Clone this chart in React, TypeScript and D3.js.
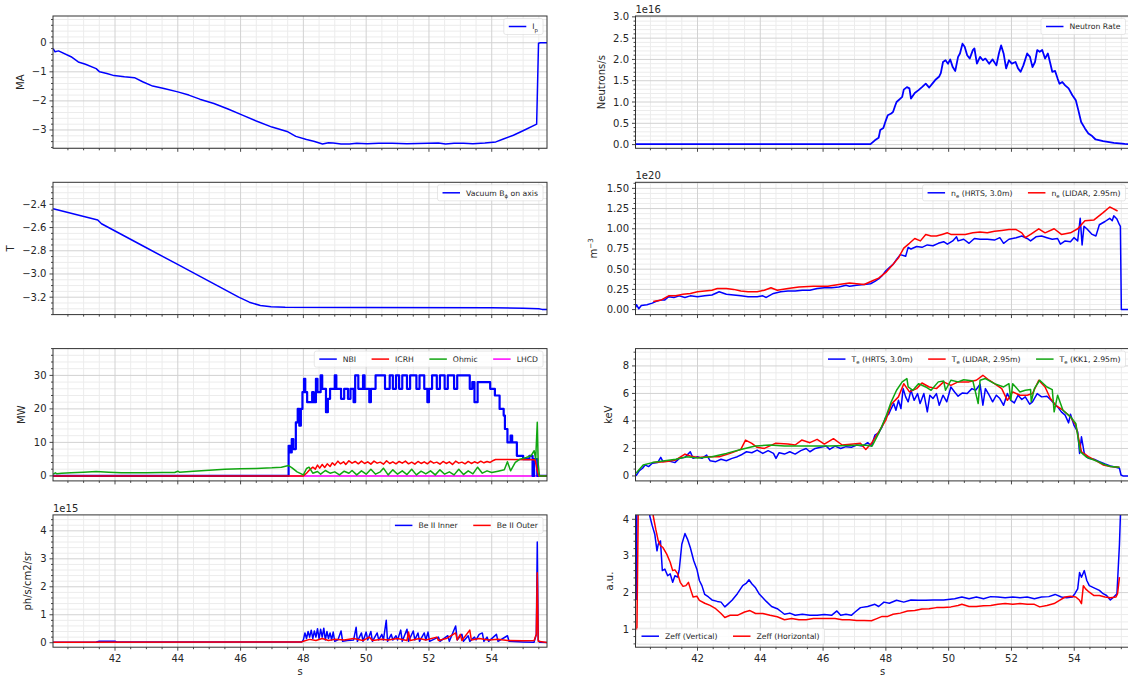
import React, { useEffect, useRef } from "react";
import * as d3 from "d3";

type Pt = [number, number];

// shared time axis (s)
const timeDomain: [number, number] = [40.025, 55.76];
const timeTicks = [42, 44, 46, 48, 50, 52, 54];

// ---- plasma current (MA) ----
const ipData: Pt[] = [
  [40.03, -0.2], [40.09, -0.31], [40.2, -0.28], [40.6, -0.48], [40.83, -0.66], [41.06, -0.74],
  [41.4, -0.89], [41.51, -1.0], [41.74, -1.06], [41.97, -1.13], [42.3, -1.17], [42.62, -1.2],
  [42.88, -1.34], [43.2, -1.49], [43.56, -1.57], [44.0, -1.69], [44.35, -1.8], [44.7, -1.94],
  [45.15, -2.09], [45.6, -2.28], [46.06, -2.49], [46.5, -2.69], [47.0, -2.9], [47.48, -3.05],
  [47.76, -3.22], [48.1, -3.33], [48.33, -3.39], [48.61, -3.48], [48.8, -3.44], [48.95, -3.45],
  [49.2, -3.48], [49.47, -3.48], [49.7, -3.46], [50.03, -3.47], [50.4, -3.46], [50.83, -3.46],
  [51.3, -3.47], [51.97, -3.46], [52.3, -3.45], [52.53, -3.48], [52.8, -3.46], [53.1, -3.46],
  [53.4, -3.47], [53.78, -3.45], [54.13, -3.41], [54.35, -3.32], [54.69, -3.18], [55.03, -3.01],
  [55.43, -2.8], [55.49, -0.02], [55.55, 0], [55.76, 0],
];

// ---- vacuum toroidal field (T) ----
const btData: Pt[] = [
  [40.03, -2.437], [41.45, -2.535], [41.57, -2.567], [42.88, -2.757], [44.01, -2.92], [45.94, -3.2],
  [46.28, -3.243], [46.63, -3.272], [46.97, -3.283], [47.42, -3.287], [50.0, -3.288], [54.0, -3.29],
  [55.0, -3.295], [55.5, -3.3], [55.6, -3.305], [55.76, -3.306],
];

// ---- heating power (MW) ----
const nbiData: Pt[] = [
  [40.03, 0], [47.53, 9], [47.58, 7], [47.63, 11], [47.68, 8], [47.76, 16], [47.82, 20], [47.87, 15],
  [47.92, 20], [47.97, 25], [48.02, 29], [48.06, 25], [48.12, 22], [48.28, 25], [48.33, 22], [48.4, 29],
  [48.45, 25], [48.55, 30], [48.6, 26], [48.72, 19], [48.78, 23], [48.85, 26], [49.0, 30], [49.05, 26],
  [49.2, 23], [49.3, 26], [49.42, 23], [49.5, 26], [49.6, 22], [49.65, 30], [49.75, 26], [49.9, 30],
  [49.95, 26], [50.1, 22], [50.15, 26], [50.3, 30], [50.6, 26], [50.75, 30], [50.85, 26], [50.95, 30],
  [51.05, 26], [51.15, 30], [51.3, 26], [51.4, 30], [51.6, 26], [51.7, 30], [51.85, 26], [51.95, 22],
  [52.0, 26], [52.1, 30], [52.25, 26], [52.35, 30], [52.5, 26], [52.6, 30], [52.8, 26], [52.9, 30],
  [53.3, 26], [53.38, 28], [53.45, 22], [53.55, 28], [53.95, 26], [54.1, 24], [54.25, 20], [54.38, 18],
  [54.42, 14], [54.5, 10], [54.6, 12], [54.65, 10], [54.8, 6], [55.0, 5], [55.2, 6], [55.3, 0],
  [55.35, 5], [55.45, 0], [55.76, 0],
];
const icrhData: Pt[] = [
  [40.03, 0], [48.0, 0], [48.1, 0.8], [48.2, 1.8], [48.3, 2.6], [48.38, 2.0], [48.45, 3.2], [48.52, 2.3],
  [48.6, 3.4], [48.68, 2.5], [48.76, 3.6], [48.85, 2.8], [48.92, 3.9], [49.0, 3.2], [49.1, 4.4], [49.18, 3.6],
  [49.28, 4.2], [49.35, 3.4], [49.45, 4.5], [49.55, 3.8], [49.65, 4.3], [49.75, 3.6], [49.85, 4.4], [49.95, 3.7],
  [50.05, 4.2], [50.15, 3.5], [50.25, 4.4], [50.35, 3.8], [50.45, 4.1], [50.55, 3.5], [50.65, 4.5], [50.75, 3.7],
  [50.85, 4.2], [50.95, 3.6], [51.05, 4.3], [51.15, 3.8], [51.25, 4.4], [51.35, 3.6], [51.45, 4.1], [51.55, 3.5],
  [51.65, 4.3], [51.75, 3.7], [51.85, 4.2], [51.95, 3.6], [52.05, 4.4], [52.15, 3.8], [52.25, 4.1], [52.35, 3.5],
  [52.45, 4.3], [52.55, 3.7], [52.65, 4.2], [52.75, 3.4], [52.85, 4.4], [52.95, 3.8], [53.05, 4.1], [53.15, 3.6],
  [53.25, 4.3], [53.35, 3.7], [53.45, 4.2], [53.55, 3.8], [53.65, 4.4], [53.75, 3.9], [53.85, 4.3], [53.95, 4.0],
  [54.05, 4.6], [54.12, 4.9], [55.38, 4.8], [55.45, 1.5], [55.5, 0], [55.76, 0],
];
const ohmicData: Pt[] = [
  [40.03, 0.5], [40.1, 0.9], [40.15, 0.6], [40.3, 0.8], [40.6, 0.9], [41.0, 1.1], [41.4, 1.3], [41.8, 1.1],
  [42.2, 0.9], [42.6, 0.9], [43.0, 0.9], [43.5, 1.0], [43.9, 1.0], [44.0, 1.4], [44.05, 1.1], [44.5, 1.4],
  [45.0, 1.7], [45.5, 2.0], [46.0, 2.1], [46.5, 2.2], [47.0, 2.4], [47.3, 2.6], [47.53, 3.1], [47.65, 2.3],
  [47.8, 1.2], [48.0, 0.3], [48.1, 2.2], [48.18, 2.6], [48.3, 0.8], [48.45, 1.3], [48.55, 0.5], [48.7, 1.6],
  [48.85, 0.8], [49.0, 1.2], [49.15, 0.3], [49.3, 1.4], [49.45, 0.8], [49.55, 1.6], [49.7, 0.3], [49.85, 1.5],
  [50.0, 0.5], [50.15, 2.0], [50.3, 0.5], [50.45, 1.2], [50.55, 2.3], [50.7, 0.3], [50.85, 1.8], [51.0, 0.5],
  [51.15, 1.5], [51.3, 0.4], [51.45, 2.0], [51.6, 0.3], [51.75, 1.4], [51.9, 0.6], [52.05, 1.5], [52.2, 0.3],
  [52.35, 1.8], [52.5, 0.5], [52.65, 1.2], [52.8, 0.3], [52.95, 2.0], [53.1, 0.4], [53.25, 1.5], [53.4, 0.6],
  [53.55, 2.6], [53.7, 0.8], [53.85, 1.5], [54.0, 1.0], [54.2, 1.4], [54.4, 1.8], [54.5, 4.2], [54.6, 1.5],
  [54.75, 4.0], [54.9, 5.0], [55.1, 5.5], [55.25, 6.0], [55.35, 7.5], [55.4, 5.0], [55.45, 16], [55.48, 3.5],
  [55.52, 0], [55.76, 0],
];
const lhcdData: Pt[] = [[40.03, 0], [55.76, 0]];

// ---- Be II emission (1e15 ph/s/cm2/sr) ----
const beInnerData: Pt[] = [
  [40.03, 0.02], [41.4, 0.03], [41.5, 0.05], [42.0, 0.05], [42.05, 0.03], [47.95, 0.03], [48.0, 0.1],
  [48.05, 0.35], [48.1, 0.15], [48.15, 0.4], [48.2, 0.2], [48.25, 0.45], [48.3, 0.15], [48.35, 0.42],
  [48.4, 0.2], [48.45, 0.5], [48.5, 0.15], [48.55, 0.48], [48.6, 0.2], [48.65, 0.52], [48.7, 0.1],
  [48.75, 0.4], [48.8, 0.15], [48.85, 0.35], [48.9, 0.1], [48.95, 0.38], [49.0, 0.05], [49.1, 0.1],
  [49.2, 0.42], [49.25, 0.05], [49.4, 0.08], [49.6, 0.1], [49.68, 0.55], [49.72, 0.05], [49.85, 0.35],
  [49.9, 0.05], [50.0, 0.38], [50.05, 0.1], [50.15, 0.4], [50.2, 0.05], [50.35, 0.35], [50.4, 0.1],
  [50.5, 0.3], [50.55, 0.1], [50.64, 0.8], [50.68, 0.05], [50.8, 0.3], [50.85, 0.1], [50.95, 0.25],
  [51.0, 0.1], [51.1, 0.45], [51.15, 0.05], [51.3, 0.48], [51.35, 0.05], [51.5, 0.42], [51.55, 0.1],
  [51.65, 0.35], [51.7, 0.05], [51.85, 0.35], [51.9, 0.1], [51.97, 0.38], [52.02, 0.05], [52.3, 0.2],
  [52.35, 0.05], [52.6, 0.25], [52.65, 0.05], [52.85, 0.6], [52.9, 0.1], [53.05, 0.3], [53.1, 0.05],
  [53.25, 0.25], [53.3, 0.05], [53.45, 0.2], [53.5, 0.1], [53.6, 0.3], [53.7, 0.35], [53.75, 0.05],
  [53.85, 0.2], [53.9, 0.05], [54.15, 0.3], [54.2, 0.05], [54.5, 0.25], [54.55, 0.05], [55.0, 0.03],
  [55.35, 0.02], [55.42, 0.3], [55.45, 3.6], [55.48, 0.1], [55.52, 0.02], [55.76, 0.01],
];
const beOuterData: Pt[] = [
  [40.03, 0.02], [47.95, 0.03], [48.0, 0.05], [48.2, 0.12], [48.4, 0.08], [48.6, 0.15], [48.8, 0.08],
  [49.0, 0.12], [49.3, 0.1], [49.6, 0.15], [49.9, 0.08], [50.1, 0.2], [50.2, 0.08], [50.5, 0.12],
  [50.7, 0.1], [51.0, 0.15], [51.3, 0.08], [51.35, 0.38], [51.4, 0.08], [51.7, 0.15], [51.9, 0.1],
  [52.25, 0.2], [52.3, 0.08], [52.55, 0.15], [52.85, 0.35], [52.9, 0.1], [53.0, 0.3], [53.05, 0.08],
  [53.3, 0.45], [53.35, 0.1], [53.6, 0.15], [53.9, 0.1], [54.2, 0.12], [54.5, 0.08], [55.0, 0.07],
  [55.35, 0.08], [55.42, 0.3], [55.45, 2.5], [55.48, 0.05], [55.76, 0.01],
];

// ---- neutron rate (1e16 /s) ----
const neutronData: Pt[] = [
  [40.03, 0.01], [47.51, 0.01], [47.65, 0.1], [47.77, 0.16], [47.82, 0.34], [47.92, 0.39], [48.0, 0.57],
  [48.06, 0.69], [48.17, 0.73], [48.23, 0.77], [48.29, 0.9], [48.34, 1.0], [48.46, 1.08], [48.52, 1.12],
  [48.57, 1.29], [48.67, 1.35], [48.75, 1.32], [48.8, 1.08], [48.92, 1.21], [49.04, 1.28], [49.15, 1.35],
  [49.27, 1.43], [49.38, 1.34], [49.5, 1.45], [49.59, 1.53], [49.7, 1.6], [49.75, 1.68], [49.82, 1.94],
  [49.9, 1.98], [49.98, 1.9], [50.05, 2.0], [50.13, 1.82], [50.21, 1.73], [50.3, 2.06], [50.36, 2.14],
  [50.44, 2.37], [50.51, 2.3], [50.59, 2.1], [50.67, 2.02], [50.77, 2.22], [50.82, 2.26], [50.9, 1.9],
  [51.0, 2.06], [51.09, 1.98], [51.17, 2.02], [51.29, 1.9], [51.4, 2.0], [51.52, 1.86], [51.6, 2.14],
  [51.67, 2.33], [51.75, 2.14], [51.83, 1.79], [51.92, 1.98], [52.01, 1.9], [52.13, 1.94], [52.21, 1.79],
  [52.29, 1.71], [52.38, 1.86], [52.5, 2.14], [52.59, 2.06], [52.67, 1.82], [52.75, 1.94], [52.82, 2.22],
  [52.9, 2.18], [52.98, 2.22], [53.07, 2.02], [53.16, 2.14], [53.24, 1.9], [53.3, 1.71], [53.39, 1.73],
  [53.47, 1.55], [53.53, 1.43], [53.62, 1.47], [53.71, 1.39], [53.82, 1.32], [53.94, 1.16], [54.05, 1.04],
  [54.13, 0.81], [54.22, 0.53], [54.34, 0.38], [54.45, 0.26], [54.57, 0.2], [54.68, 0.12], [54.92, 0.08],
  [55.26, 0.04], [55.61, 0.016], [55.76, 0.01],
];

// ---- electron density (1e20 m^-3) ----
const neHrtsData: Pt[] = [
  [40.02, 0.02], [40.06, 0.06], [40.13, 0.01], [40.21, 0.05], [40.39, 0.06], [40.56, 0.08], [40.67, 0.1],
  [40.85, 0.12], [40.96, 0.12], [41.08, 0.16], [41.25, 0.15], [41.42, 0.17], [41.6, 0.15], [41.77, 0.17],
  [42.0, 0.16], [42.23, 0.17], [42.46, 0.18], [42.69, 0.22], [42.92, 0.19], [43.15, 0.18], [43.38, 0.17],
  [43.61, 0.16], [43.9, 0.16], [44.08, 0.17], [44.19, 0.15], [44.42, 0.2], [44.65, 0.22], [44.88, 0.23],
  [45.11, 0.23], [45.34, 0.24], [45.58, 0.24], [45.81, 0.26], [46.04, 0.27], [46.27, 0.27], [46.5, 0.28],
  [46.73, 0.3], [46.84, 0.29], [47.07, 0.3], [47.31, 0.31], [47.51, 0.32], [47.65, 0.35], [47.77, 0.38],
  [47.88, 0.42], [48.0, 0.48], [48.11, 0.52], [48.23, 0.56], [48.34, 0.62], [48.46, 0.68], [48.63, 0.66],
  [48.71, 0.77], [48.8, 0.75], [48.98, 0.78], [49.15, 0.77], [49.32, 0.8], [49.5, 0.79], [49.67, 0.82],
  [49.84, 0.84], [49.96, 0.81], [50.13, 0.85], [50.25, 0.9], [50.3, 0.85], [50.48, 0.87], [50.65, 0.82],
  [50.82, 0.88], [51.0, 0.87], [51.23, 0.87], [51.46, 0.86], [51.63, 0.89], [51.75, 0.82], [51.92, 0.87],
  [52.15, 0.89], [52.33, 0.91], [52.5, 0.88], [52.61, 0.85], [52.78, 0.9], [52.96, 0.91], [53.13, 0.89],
  [53.3, 0.87], [53.47, 0.88], [53.56, 0.81], [53.71, 0.85], [53.88, 0.84], [53.99, 0.89], [54.11, 0.85],
  [54.19, 1.13], [54.25, 0.8], [54.31, 1.03], [54.4, 1.0], [54.57, 0.93], [54.69, 0.91], [54.8, 1.05],
  [54.98, 1.09], [55.13, 1.13], [55.21, 1.1], [55.26, 1.16], [55.36, 1.12], [55.44, 1.05], [55.47, 1.03],
  [55.5, 0.0], [55.76, 0.0],
];
const neLidarData: Pt[] = [
  [40.59, 0.1], [40.85, 0.12], [41.08, 0.17], [41.31, 0.17], [41.54, 0.19], [41.77, 0.2], [42.0, 0.22],
  [42.23, 0.23], [42.46, 0.24], [42.63, 0.26], [42.92, 0.26], [43.15, 0.25], [43.38, 0.23], [43.61, 0.22],
  [43.9, 0.22], [44.13, 0.24], [44.34, 0.27], [44.54, 0.24], [44.88, 0.26], [45.23, 0.28], [45.69, 0.29],
  [46.15, 0.29], [46.5, 0.31], [46.84, 0.33], [47.07, 0.32], [47.31, 0.31], [47.54, 0.35], [47.77, 0.39],
  [48.0, 0.46], [48.23, 0.56], [48.4, 0.64], [48.57, 0.76], [48.75, 0.82], [48.92, 0.88], [49.1, 0.85],
  [49.27, 0.93], [49.44, 0.91], [49.61, 0.91], [49.79, 0.93], [49.96, 0.95], [50.07, 0.93], [50.3, 0.93],
  [50.53, 0.93], [50.77, 0.95], [51.0, 0.96], [51.23, 0.95], [51.46, 0.97], [51.69, 0.98], [51.92, 0.99],
  [52.15, 0.99], [52.33, 0.95], [52.44, 0.89], [52.61, 0.93], [52.87, 1.0], [53.07, 0.95], [53.36, 1.0],
  [53.59, 0.93], [53.88, 0.95], [54.11, 1.0], [54.34, 1.1], [54.63, 1.11], [54.92, 1.2], [55.13, 1.27],
  [55.38, 1.22],
];

// ---- electron temperature (keV) ----
const teHrtsData: Pt[] = [
  [40.04, 0], [40.15, 0.39], [40.25, 0.56], [40.33, 0.8], [40.44, 0.68], [40.56, 0.92], [40.73, 0.97],
  [40.83, 1.35], [40.9, 1.04], [41.02, 1.11], [41.13, 1.06], [41.28, 0.97], [41.42, 1.28], [41.6, 1.35],
  [41.77, 1.76], [41.86, 1.28], [42.0, 1.4], [42.14, 1.28], [42.29, 1.52], [42.4, 1.11], [42.58, 1.04],
  [42.75, 1.21], [42.92, 1.11], [43.1, 1.28], [43.27, 1.4], [43.38, 1.52], [43.56, 1.76], [43.73, 1.69],
  [43.9, 1.88], [44.08, 1.64], [44.25, 1.84], [44.42, 1.64], [44.5, 1.28], [44.6, 1.69], [44.77, 1.59],
  [44.94, 1.76], [45.11, 1.59], [45.29, 1.84], [45.46, 2.0], [45.58, 1.76], [45.75, 2.0], [45.92, 2.08],
  [46.1, 2.17], [46.21, 1.93], [46.38, 2.17], [46.56, 2.0], [46.73, 2.13], [46.9, 2.08], [47.07, 2.25],
  [47.25, 2.17], [47.42, 2.42], [47.54, 2.17], [47.65, 2.97], [47.77, 3.14], [47.88, 3.57], [48.0, 4.3],
  [48.09, 4.49], [48.17, 4.9], [48.25, 5.27], [48.32, 4.78], [48.4, 5.5], [48.48, 4.9], [48.55, 6.35],
  [48.63, 5.75], [48.71, 5.39], [48.8, 6.23], [48.9, 5.5], [49.01, 5.99], [49.09, 5.27], [49.21, 5.99],
  [49.32, 4.66], [49.4, 5.87], [49.5, 5.63], [49.61, 5.99], [49.7, 5.14], [49.82, 5.87], [49.94, 5.39],
  [50.07, 6.47], [50.19, 6.11], [50.3, 5.8], [50.44, 6.04], [50.59, 5.99], [50.74, 6.35], [50.86, 6.23],
  [51.0, 6.67], [51.09, 5.14], [51.17, 6.35], [51.29, 5.87], [51.4, 5.39], [51.52, 5.87], [51.63, 5.63],
  [51.75, 5.14], [51.87, 5.99], [51.98, 5.5], [52.09, 5.31], [52.21, 5.87], [52.33, 5.56], [52.44, 5.75],
  [52.58, 5.22], [52.67, 5.39], [52.82, 5.99], [52.96, 5.75], [53.13, 5.8], [53.24, 5.56], [53.36, 5.27],
  [53.47, 5.02], [53.59, 4.66], [53.71, 4.42], [53.82, 3.86], [53.88, 4.49], [53.99, 3.7], [54.11, 3.21],
  [54.17, 1.64], [54.23, 2.85], [54.32, 1.64], [54.45, 1.28], [54.63, 1.21], [54.8, 1.04], [54.98, 0.87],
  [55.15, 0.72], [55.33, 0.63], [55.44, 0.56], [55.49, 0.07], [55.55, 0], [55.76, 0],
];
const teLidarData: Pt[] = [
  [40.59, 0.97], [40.96, 1.04], [41.31, 1.16], [41.6, 1.59], [41.77, 1.45], [42.0, 1.35], [42.35, 1.4],
  [42.69, 1.4], [43.04, 1.64], [43.38, 1.93], [43.53, 2.61], [43.73, 2.37], [43.9, 2.08], [44.13, 2.0],
  [44.48, 2.37], [44.88, 2.32], [45.11, 2.25], [45.32, 2.61], [45.58, 2.42], [45.81, 2.66], [46.04, 2.32],
  [46.33, 2.71], [46.61, 2.25], [46.96, 2.32], [47.19, 2.37], [47.36, 1.93], [47.54, 2.37], [47.77, 3.21],
  [48.0, 4.06], [48.17, 5.22], [48.4, 5.75], [48.57, 6.71], [48.75, 6.11], [48.98, 6.35], [49.15, 6.76],
  [49.38, 6.47], [49.61, 6.35], [49.84, 6.84], [50.07, 6.59], [50.3, 6.84], [50.65, 6.84], [50.88, 6.96],
  [51.09, 7.32], [51.29, 6.96], [51.46, 6.71], [51.69, 6.35], [51.87, 5.5], [52.04, 6.11], [52.27, 5.87],
  [52.5, 5.87], [52.67, 5.99], [52.87, 6.96], [53.07, 6.47], [53.24, 5.63], [53.41, 5.14], [53.64, 4.78],
  [53.88, 4.3], [54.05, 3.7], [54.23, 1.76], [54.45, 1.4], [54.69, 1.11], [54.92, 0.8], [55.15, 0.68],
  [55.44, 0.63],
];
const teKk1Data: Pt[] = [
  [40.04, 0.19], [40.27, 0.8], [40.56, 0.97], [40.96, 1.11], [41.31, 1.21], [41.66, 1.4], [42.0, 1.3],
  [42.46, 1.4], [42.92, 1.64], [43.38, 1.93], [43.84, 2.17], [44.31, 2.25], [44.77, 2.17], [45.46, 2.17],
  [46.15, 2.17], [46.84, 2.22], [47.31, 2.25], [47.56, 2.17], [47.77, 3.09], [48.0, 4.3], [48.17, 5.39],
  [48.34, 6.23], [48.52, 6.84], [48.67, 7.08], [48.71, 6.47], [48.86, 6.23], [49.04, 6.71], [49.27, 6.47],
  [49.44, 6.23], [49.67, 6.84], [49.84, 6.91], [49.9, 6.23], [50.07, 6.96], [50.3, 6.84], [50.48, 7.0],
  [50.77, 6.91], [50.94, 5.27], [51.0, 6.96], [51.17, 7.08], [51.46, 6.71], [51.75, 6.47], [51.92, 6.71],
  [51.98, 5.5], [52.04, 6.71], [52.27, 6.11], [52.44, 6.23], [52.61, 6.28], [52.63, 5.39], [52.73, 6.35],
  [52.9, 6.96], [53.13, 6.47], [53.3, 6.28], [53.36, 4.66], [53.47, 5.87], [53.64, 4.78], [53.88, 4.3],
  [54.05, 3.82], [54.19, 1.76], [54.4, 1.35], [54.69, 1.11], [54.92, 0.87], [55.15, 0.68], [55.44, 0.63],
];

// ---- Zeff (a.u.) ----
const zeffVertData: Pt[] = [
  [40.05, 1.8], [40.08, 6], [40.4, 6], [40.48, 4.09], [40.56, 3.82], [40.64, 3.59], [40.71, 3.14],
  [40.75, 3.32], [40.82, 3.41], [40.88, 2.6], [40.96, 2.64], [41.05, 2.46], [41.13, 2.51], [41.21, 2.28],
  [41.28, 2.46], [41.37, 2.42], [41.42, 2.64], [41.5, 3.32], [41.6, 3.61], [41.68, 3.46], [41.77, 3.23],
  [41.88, 2.87], [41.98, 2.64], [42.06, 2.33], [42.14, 2.19], [42.23, 1.95], [42.35, 1.88], [42.46, 1.8],
  [42.63, 1.76], [42.75, 1.74], [42.87, 1.61], [42.96, 1.68], [43.1, 1.79], [43.27, 1.97], [43.44, 2.19],
  [43.56, 2.26], [43.64, 2.35], [43.73, 2.24], [43.85, 2.13], [43.96, 1.97], [44.08, 1.86], [44.19, 1.76],
  [44.36, 1.62], [44.54, 1.56], [44.68, 1.47], [44.77, 1.41], [44.94, 1.44], [45.11, 1.38], [45.34, 1.41],
  [45.58, 1.38], [45.81, 1.38], [46.04, 1.4], [46.27, 1.38], [46.44, 1.5], [46.56, 1.38], [46.73, 1.41],
  [46.9, 1.38], [47.02, 1.47], [47.19, 1.59], [47.42, 1.62], [47.65, 1.68], [47.77, 1.62], [47.94, 1.74],
  [48.11, 1.71], [48.34, 1.79], [48.57, 1.74], [48.8, 1.8], [49.04, 1.79], [49.27, 1.79], [49.5, 1.8],
  [49.84, 1.8], [50.19, 1.83], [50.42, 1.88], [50.65, 1.83], [50.88, 1.88], [51.11, 1.83], [51.34, 1.89],
  [51.57, 1.88], [51.8, 1.86], [52.04, 1.88], [52.27, 1.86], [52.5, 1.88], [52.73, 1.83], [52.96, 1.88],
  [53.19, 1.89], [53.39, 1.95], [53.59, 1.88], [53.76, 1.86], [53.94, 1.88], [54.02, 1.97], [54.11, 2.1],
  [54.17, 2.55], [54.23, 2.42], [54.32, 2.6], [54.4, 2.33], [54.48, 2.19], [54.63, 2.13], [54.8, 2.06],
  [54.92, 1.97], [55.03, 1.92], [55.15, 1.8], [55.26, 1.88], [55.36, 1.97], [55.44, 3.32], [55.47, 4.09],
  [55.52, 5],
];
const zeffHorzData: Pt[] = [
  [40.07, 0.97], [40.11, 4.1], [40.15, 6], [40.5, 6], [40.59, 4.09], [40.67, 3.73], [40.75, 3.41],
  [40.82, 3.28], [40.9, 3.23], [41.02, 3.05], [41.13, 2.83], [41.21, 2.6], [41.28, 2.62], [41.37, 2.51],
  [41.45, 2.28], [41.54, 2.17], [41.63, 2.19], [41.71, 2.28], [41.79, 2.06], [41.86, 1.88], [41.98, 1.9],
  [42.06, 1.79], [42.23, 1.71], [42.4, 1.65], [42.58, 1.56], [42.75, 1.43], [42.87, 1.32], [43.04, 1.38],
  [43.27, 1.38], [43.5, 1.47], [43.67, 1.51], [43.85, 1.43], [44.08, 1.43], [44.31, 1.38], [44.54, 1.34],
  [44.77, 1.26], [45.0, 1.29], [45.23, 1.26], [45.46, 1.26], [45.69, 1.29], [45.92, 1.29], [46.15, 1.29],
  [46.38, 1.29], [46.61, 1.26], [46.84, 1.26], [47.07, 1.24], [47.31, 1.24], [47.54, 1.23], [47.71, 1.29],
  [47.88, 1.35], [48.06, 1.35], [48.23, 1.41], [48.46, 1.44], [48.69, 1.5], [48.92, 1.51], [49.15, 1.55],
  [49.38, 1.56], [49.61, 1.59], [49.84, 1.59], [50.07, 1.61], [50.3, 1.65], [50.42, 1.68], [50.65, 1.62],
  [50.88, 1.62], [51.11, 1.64], [51.34, 1.65], [51.57, 1.68], [51.8, 1.7], [52.04, 1.68], [52.27, 1.7],
  [52.5, 1.68], [52.73, 1.68], [52.9, 1.61], [53.13, 1.65], [53.36, 1.7], [53.53, 1.79], [53.71, 1.88],
  [53.88, 1.9], [54.05, 1.88], [54.17, 1.79], [54.23, 1.7], [54.29, 2.19], [54.36, 2.1], [54.48, 2.01],
  [54.63, 1.92], [54.8, 1.92], [54.98, 1.88], [55.15, 1.86], [55.33, 1.88], [55.38, 1.97], [55.44, 2.42],
];

// ---- y tick values ----
const ipTicks = [-3, -2, -1, 0];
const btTicks = [-3.2, -3.0, -2.8, -2.6, -2.4];
const powerTicks = [0, 10, 20, 30];
const beTicks = [0, 1, 2, 3, 4];
const neutronTicks = [0, 0.5, 1.0, 1.5, 2.0, 2.5, 3.0];
const neTicks = [0, 0.25, 0.5, 0.75, 1.0, 1.25, 1.5];
const teTicks = [0, 2, 4, 6, 8];
const zeffTicks = [1, 2, 3, 4];

const BLUE = "#0000ff";
const RED = "#ff0000";
const GREEN = "#11a611";
const MAGENTA = "#ff00ff";

// layout
const W = 1128;
const H = 677;
const colLeft = [53, 635.5];
const axW = 494;
const rowTop = [16, 182.3, 348.6, 514.9];
const axH = 132.3;
const FONT = "DejaVu Sans, sans-serif";
const TEXT = "#262626";

type Series = { label: string; data: Pt[]; color: string; width?: number; step?: boolean; under?: boolean };
type Panel = {
  col: number; row: number; yDomain: [number, number]; yTicks: number[]; fmt: string; minor: number;
  ylabel: string; ylabelX: number; offset?: string; legend: "ur" | "ll"; series: Series[]; xlabels?: boolean;
};

const panels: Panel[] = [
  { col: 0, row: 0, yDomain: [-3.63, 0.92], yTicks: ipTicks, fmt: "d", minor: 0.2, ylabel: "MA", ylabelX: 24, legend: "ur",
    series: [{ label: "I_p", data: ipData, color: BLUE }] },
  { col: 0, row: 1, yDomain: [-3.35, -2.21], yTicks: btTicks, fmt: ".1f", minor: 0.05, ylabel: "T", ylabelX: 14, legend: "ur",
    series: [{ label: "Vacuum B_ϕ on axis", data: btData, color: BLUE }] },
  { col: 0, row: 2, yDomain: [-1.5, 38], yTicks: powerTicks, fmt: "d", minor: 2, ylabel: "MW", ylabelX: 25, legend: "ur",
    series: [
      { label: "NBI", data: nbiData, color: BLUE, width: 2.2, step: true },
      { label: "ICRH", data: icrhData, color: RED },
      { label: "Ohmic", data: ohmicData, color: GREEN },
      { label: "LHCD", data: lhcdData, color: MAGENTA, under: true },
    ] },
  { col: 0, row: 3, yDomain: [-0.16, 4.57], yTicks: beTicks, fmt: "d", minor: 0.2, ylabel: "ph/s/cm2/sr", ylabelX: 31, offset: "1e15",
    legend: "ur", xlabels: true,
    series: [
      { label: "Be II Inner", data: beInnerData, color: BLUE },
      { label: "Be II Outer", data: beOuterData, color: RED },
    ] },
  { col: 1, row: 0, yDomain: [-0.087, 3.02], yTicks: neutronTicks, fmt: ".1f", minor: 0.1, ylabel: "Neutrons/s", ylabelX: 605, offset: "1e16",
    legend: "ur", series: [{ label: "Neutron Rate", data: neutronData, color: BLUE, width: 1.8 }] },
  { col: 1, row: 1, yDomain: [-0.062, 1.575], yTicks: neTicks, fmt: ".2f", minor: 0.0625, ylabel: "m^{−3}", ylabelX: 597, offset: "1e20",
    legend: "ur",
    series: [
      { label: "n_e (HRTS, 3.0m)", data: neHrtsData, color: BLUE },
      { label: "n_e (LIDAR, 2.95m)", data: neLidarData, color: RED },
    ] },
  { col: 1, row: 2, yDomain: [-0.36, 9.26], yTicks: teTicks, fmt: "d", minor: 0.5, ylabel: "keV", ylabelX: 612, legend: "ur",
    series: [
      { label: "T_e (HRTS, 3.0m)", data: teHrtsData, color: BLUE },
      { label: "T_e (LIDAR, 2.95m)", data: teLidarData, color: RED },
      { label: "T_e (KK1, 2.95m)", data: teKk1Data, color: GREEN },
    ] },
  { col: 1, row: 3, yDomain: [0.51, 4.12], yTicks: zeffTicks, fmt: "d", minor: 0.2, ylabel: "a.u.", ylabelX: 613, legend: "ll", xlabels: true,
    series: [
      { label: "Zeff (Vertical)", data: zeffVertData, color: BLUE },
      { label: "Zeff (Horizontal)", data: zeffHorzData, color: RED },
    ] },
];

// text with _x / ^{..} sub/superscripts
function rich(sel: any, s: string, size: number) {
  const re = /([_^])(?:\{([^}]*)\}|(.))/g;
  let last = 0;
  let shift = 0;
  let m: RegExpExecArray | null;
  const push = (txt: string, kind: string) => {
    if (!txt) return;
    const target = kind === "sub" ? size * 0.3 : kind === "sup" ? -size * 0.4 : 0;
    sel.append("tspan")
      .attr("font-size", kind === "n" ? size : size * 0.7)
      .attr("dy", target - shift)
      .text(txt);
    shift = target;
  };
  while ((m = re.exec(s))) {
    push(s.slice(last, m.index), "n");
    push(m[2] ?? m[3], m[1] === "_" ? "sub" : "sup");
    last = re.lastIndex;
  }
  push(s.slice(last), "n");
}

function stepsIn(d0: number, d1: number, step: number) {
  const k0 = Math.ceil(d0 / step - 1e-9);
  const k1 = Math.floor(d1 / step + 1e-9);
  return d3.range(k0, k1 + 1).map((k) => +(k * step).toFixed(6));
}

function drawPanel(svg: any, p: Panel, i: number) {
  const x0 = colLeft[p.col];
  const y0 = rowTop[p.row];
  const x = d3.scaleLinear().domain(timeDomain).range([x0, x0 + axW]);
  const y = d3.scaleLinear().domain(p.yDomain).range([y0 + axH, y0]);
  const g = svg.append("g");

  const clipId = `clip-${i}`;
  svg.append("defs").append("clipPath").attr("id", clipId)
    .append("rect").attr("x", x0).attr("y", y0).attr("width", axW).attr("height", axH);

  const isMajor = (v: number, majors: number[]) => majors.some((m) => Math.abs(m - v) < 1e-6);
  const xMinor = stepsIn(timeDomain[0], timeDomain[1], 0.5).filter((v) => !isMajor(v, timeTicks));
  const yMinor = stepsIn(p.yDomain[0], p.yDomain[1], p.minor).filter((v) => !isMajor(v, p.yTicks));

  // grid
  const grid = g.append("g");
  xMinor.forEach((v) => grid.append("line").attr("x1", x(v)).attr("x2", x(v)).attr("y1", y0).attr("y2", y0 + axH)
    .attr("stroke", "#ececec").attr("stroke-width", 1));
  yMinor.forEach((v) => grid.append("line").attr("x1", x0).attr("x2", x0 + axW).attr("y1", y(v)).attr("y2", y(v))
    .attr("stroke", "#ececec").attr("stroke-width", 1));
  timeTicks.forEach((v) => grid.append("line").attr("x1", x(v)).attr("x2", x(v)).attr("y1", y0).attr("y2", y0 + axH)
    .attr("stroke", "#d2d2d2").attr("stroke-width", 1));
  p.yTicks.forEach((v) => grid.append("line").attr("x1", x0).attr("x2", x0 + axW).attr("y1", y(v)).attr("y2", y(v))
    .attr("stroke", "#d2d2d2").attr("stroke-width", 1));

  // data (series flagged "under" are drawn first, beneath the others)
  const lines = g.append("g").attr("clip-path", `url(#${clipId})`);
  const order = [...p.series.filter((s) => s.under), ...p.series.filter((s) => !s.under)];
  order.forEach((s) => {
    const line = d3.line<Pt>().x((d) => x(d[0])).y((d) => y(d[1]));
    if (s.step) line.curve(d3.curveStepAfter);
    lines.append("path").attr("d", line(s.data)).attr("fill", "none").attr("stroke", s.color)
      .attr("stroke-width", s.width ?? 1.5).attr("stroke-linejoin", "round");
  });

  // frame
  g.append("rect").attr("x", x0).attr("y", y0).attr("width", axW).attr("height", axH)
    .attr("fill", "none").attr("stroke", "#333").attr("stroke-width", 1);

  // ticks
  const tk = g.append("g").attr("stroke", "#333").attr("stroke-width", 0.9);
  timeTicks.forEach((v) => tk.append("line").attr("x1", x(v)).attr("x2", x(v)).attr("y1", y0 + axH).attr("y2", y0 + axH + 3.5));
  xMinor.forEach((v) => tk.append("line").attr("x1", x(v)).attr("x2", x(v)).attr("y1", y0 + axH).attr("y2", y0 + axH + 2));
  p.yTicks.forEach((v) => tk.append("line").attr("x1", x0).attr("x2", x0 - 3.5).attr("y1", y(v)).attr("y2", y(v)));
  yMinor.forEach((v) => tk.append("line").attr("x1", x0).attr("x2", x0 - 2).attr("y1", y(v)).attr("y2", y(v)));

  const fmt = d3.format(p.fmt);
  p.yTicks.forEach((v) => g.append("text").attr("x", x0 - 6.5).attr("y", y(v)).attr("dy", "0.35em")
    .attr("text-anchor", "end").attr("font-size", 10).attr("font-family", FONT).attr("fill", TEXT).text(fmt(v)));

  if (p.xlabels) {
    timeTicks.forEach((v) => g.append("text").attr("x", x(v)).attr("y", y0 + axH + 14.5)
      .attr("text-anchor", "middle").attr("font-size", 10).attr("font-family", FONT).attr("fill", TEXT).text(String(v)));
    g.append("text").attr("x", x0 + axW / 2).attr("y", y0 + axH + 28)
      .attr("text-anchor", "middle").attr("font-size", 10).attr("font-family", FONT).attr("fill", TEXT).text("s");
  }

  if (p.offset) {
    g.append("text").attr("x", x0).attr("y", y0 - 3).attr("font-size", 10).attr("font-family", FONT)
      .attr("fill", TEXT).text(p.offset);
  }

  // y label
  const yl = g.append("text").attr("transform", `translate(${p.ylabelX},${y0 + axH / 2}) rotate(-90)`)
    .attr("text-anchor", "middle").attr("dy", "0.35em").attr("font-size", 10).attr("font-family", FONT).attr("fill", TEXT);
  rich(yl, p.ylabel, 10);

  drawLegend(g, p, x0, y0);
}

function drawLegend(g: any, p: Panel, x0: number, y0: number) {
  const fs = 7.7;
  const handle = 17.5;
  const gap = 6;
  const spacing = 15.5;
  const lg = g.append("g");
  const bg = lg.append("rect");
  const items = p.series.map((s) => {
    const t = lg.append("text").attr("font-size", fs).attr("font-family", FONT).attr("fill", TEXT);
    rich(t, s.label, fs);
    return { t, w: (t.node() as SVGTextElement).getComputedTextLength() };
  });
  const total = d3.sum(items, (d) => d.w) + items.length * (handle + gap) + spacing * (items.length - 1);
  const start = p.legend === "ur" ? x0 + axW - 9 - total : x0 + 6;
  const cy = p.legend === "ur" ? y0 + 10.5 : y0 + axH - 11;
  let cx = start;
  p.series.forEach((s, i) => {
    lg.append("line").attr("x1", cx).attr("x2", cx + handle).attr("y1", cy).attr("y2", cy)
      .attr("stroke", s.color).attr("stroke-width", 1.5);
    items[i].t.attr("x", cx + handle + gap).attr("y", cy + fs * 0.36);
    cx += handle + gap + items[i].w + spacing;
  });
  bg.attr("x", start - 5).attr("y", cy - 8).attr("width", total + 10).attr("height", 16).attr("rx", 2)
    .attr("fill", "#fff").attr("fill-opacity", 0.8).attr("stroke", "#d8d8d8").attr("stroke-opacity", 0.6);
}

export default function App() {
  const ref = useRef<SVGSVGElement>(null);

  useEffect(() => {
    const svg = d3.select(ref.current);
    svg.selectAll("*").remove();
    panels.forEach((p, i) => drawPanel(svg, p, i));
  }, []);

  return (
    <svg
      ref={ref}
      width={W}
      height={H}
      style={{ position: "absolute", left: 0, top: 0, background: "#fff", overflow: "hidden" }}
    />
  );
}
